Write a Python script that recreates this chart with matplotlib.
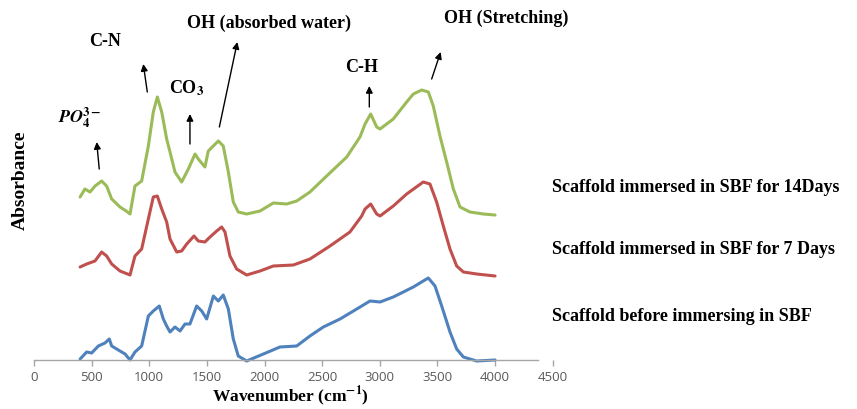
"""FTIR spectra of the scaffold before and after immersion in SBF."""

import matplotlib

matplotlib.use("Agg")
import matplotlib.pyplot as plt

plt.rcParams["font.family"] = ["Liberation Serif", "DejaVu Serif"]
plt.rcParams["mathtext.fontset"] = "stix"

# Stacked absorbance traces (a.u., vertically offset), wavenumber in cm^-1.
WN_BEFORE = [400, 457, 500, 558, 616, 653, 674, 746, 790, 833, 876, 934, 992,
             1035, 1087, 1122, 1151, 1180, 1223, 1267, 1310, 1353, 1411, 1455,
             1498, 1556, 1599, 1642, 1686, 1729, 1772, 1845, 1990, 2134, 2279,
             2394, 2510, 2655, 2800, 2915, 3002, 3117, 3291, 3377, 3421, 3479,
             3537, 3609, 3667, 3725, 3840, 4000]
ABS_BEFORE = [0.03, 0.10, 0.09, 0.16, 0.19, 0.23, 0.16, 0.11, 0.08, 0.02, 0.10,
              0.16, 0.46, 0.51, 0.56, 0.43, 0.36, 0.30, 0.35, 0.31, 0.38, 0.38,
              0.56, 0.51, 0.43, 0.66, 0.61, 0.67, 0.53, 0.23, 0.06, 0.01, 0.08,
              0.15, 0.16, 0.26, 0.35, 0.43, 0.53, 0.61, 0.60, 0.65, 0.75, 0.81,
              0.84, 0.76, 0.56, 0.30, 0.13, 0.05, 0.01, 0.02]

WN_7D = [400, 457, 529, 587, 630, 674, 746, 833, 876, 934, 992, 1035, 1070,
         1108, 1151, 1180, 1238, 1281, 1325, 1388, 1425, 1483, 1527, 1585,
         1628, 1657, 1700, 1758, 1845, 1961, 2076, 2250, 2394, 2568, 2741,
         2843, 2872, 2921, 2973, 3002, 3117, 3233, 3377, 3435, 3493, 3551,
         3609, 3667, 3725, 3840, 4000]
ABS_7D = [0.95, 0.98, 1.01, 1.10, 1.06, 0.98, 0.91, 0.87, 1.06, 1.13, 1.43,
          1.65, 1.66, 1.53, 1.40, 1.23, 1.10, 1.11, 1.18, 1.26, 1.21, 1.20,
          1.25, 1.31, 1.35, 1.30, 1.06, 0.93, 0.87, 0.91, 0.96, 0.97, 1.03,
          1.16, 1.30, 1.46, 1.53, 1.58, 1.48, 1.46, 1.56, 1.68, 1.80, 1.78,
          1.60, 1.36, 1.13, 0.96, 0.90, 0.88, 0.86]

WN_14D = [400, 442, 486, 530, 587, 630, 674, 746, 800, 833, 876, 934, 992,
          1035, 1070, 1108, 1151, 1180, 1223, 1281, 1339, 1397, 1425, 1483,
          1512, 1599, 1642, 1686, 1729, 1772, 1845, 1961, 2076, 2192, 2279,
          2394, 2539, 2713, 2828, 2872, 2921, 2973, 3002, 3117, 3233, 3291,
          3363, 3421, 3464, 3522, 3580, 3638, 3696, 3782, 3898, 4000]
ABS_14D = [1.65, 1.73, 1.70, 1.76, 1.81, 1.76, 1.63, 1.55, 1.51, 1.48, 1.76,
           1.81, 2.16, 2.50, 2.65, 2.50, 2.23, 2.10, 1.90, 1.80, 1.93, 2.08,
           2.03, 1.95, 2.11, 2.21, 2.16, 1.90, 1.60, 1.50, 1.48, 1.51, 1.59,
           1.58, 1.61, 1.70, 1.86, 2.05, 2.25, 2.38, 2.48, 2.35, 2.33, 2.43,
           2.60, 2.68, 2.72, 2.70, 2.56, 2.26, 2.00, 1.73, 1.55, 1.50, 1.48,
           1.47]

SERIES = [
    (WN_BEFORE, ABS_BEFORE, "#4F81BD", "Scaffold before immersing in SBF", 0.46),
    (WN_7D, ABS_7D, "#C0504D", "Scaffold immersed in SBF for 7 Days", 1.13),
    (WN_14D, ABS_14D, "#9BBB59", "Scaffold immersed in SBF for 14Days", 1.75),
]

# Band assignments: label, label position, arrow tail, arrow head.
BANDS = [
    (r"$\mathbfit{PO}_{\mathbf{4}}^{\mathbf{3-}}$", (399, 2.45), (566, 1.93), (544, 2.20)),
    ("C-N", (616, 3.21), (983, 2.70), (948, 2.98)),
    (r"CO$_{\mathbf{3}}$", (1327, 2.75), (1353, 2.18), (1353, 2.48)),
    ("OH (absorbed water)", (2039, 3.40), (1608, 2.35), (1764, 3.20)),
    ("C-H", (2846, 2.95), (2909, 2.55), (2909, 2.76)),
    ("OH (Stretching)", (4095, 3.45), (3450, 2.83), (3528, 3.10)),
]

XTICKS = [0, 500, 1000, 1500, 2000, 2500, 3000, 3500, 4000, 4500]


def main() -> None:
    fig = plt.figure(figsize=(8.57, 4.10), dpi=100)
    ax = fig.add_axes([34 / 857, 49 / 410, 518.7 / 857, 361 / 410])

    for wn, ab, color, label, label_y in SERIES:
        ax.plot(wn, ab, color=color, lw=2.2, solid_capstyle="round",
                solid_joinstyle="round", clip_on=False)
        ax.text(4494, label_y, label, ha="left", va="center", fontsize=13,
                fontweight="bold", clip_on=False)

    for text, pos, tail, head in BANDS:
        ax.annotate("", xy=head, xytext=tail,
                    arrowprops=dict(arrowstyle="-|>", color="black", lw=1.0,
                                    mutation_scale=10, shrinkA=0, shrinkB=0))
        ax.text(pos[0], pos[1], text, ha="center", va="center", fontsize=13,
                fontweight="bold", clip_on=False)

    ax.set_xlim(0, 4500)
    ax.set_ylim(0.02, 3.63)
    ax.set_xticks(XTICKS)
    ax.set_yticks([])
    for side in ("left", "top", "right"):
        ax.spines[side].set_visible(False)
    ax.spines["bottom"].set_color("#A6A6A6")
    ax.spines["bottom"].set_linewidth(1.0)
    ax.spines["bottom"].set_bounds(0, 4375)
    ax.tick_params(axis="x", direction="out", length=4, width=1.0,
                   color="#A6A6A6", labelcolor="#595959", labelsize=9.5, pad=3)
    for lbl in ax.get_xticklabels():
        lbl.set_fontfamily("Open Sans")

    ax.set_xlabel("Wavenumber (cm$^{\\mathbf{-1}}$)", fontsize=12.5, fontweight="bold")
    ax.xaxis.label.set_va("baseline")
    ax.xaxis.set_label_coords(0.4935, -0.110)
    ax.set_ylabel("Absorbance", fontsize=14, fontweight="bold")
    ax.yaxis.label.set_va("center")
    ax.yaxis.set_label_coords(-0.027, 0.50)

    fig.savefig("out.png", dpi=100)


if __name__ == "__main__":
    main()
